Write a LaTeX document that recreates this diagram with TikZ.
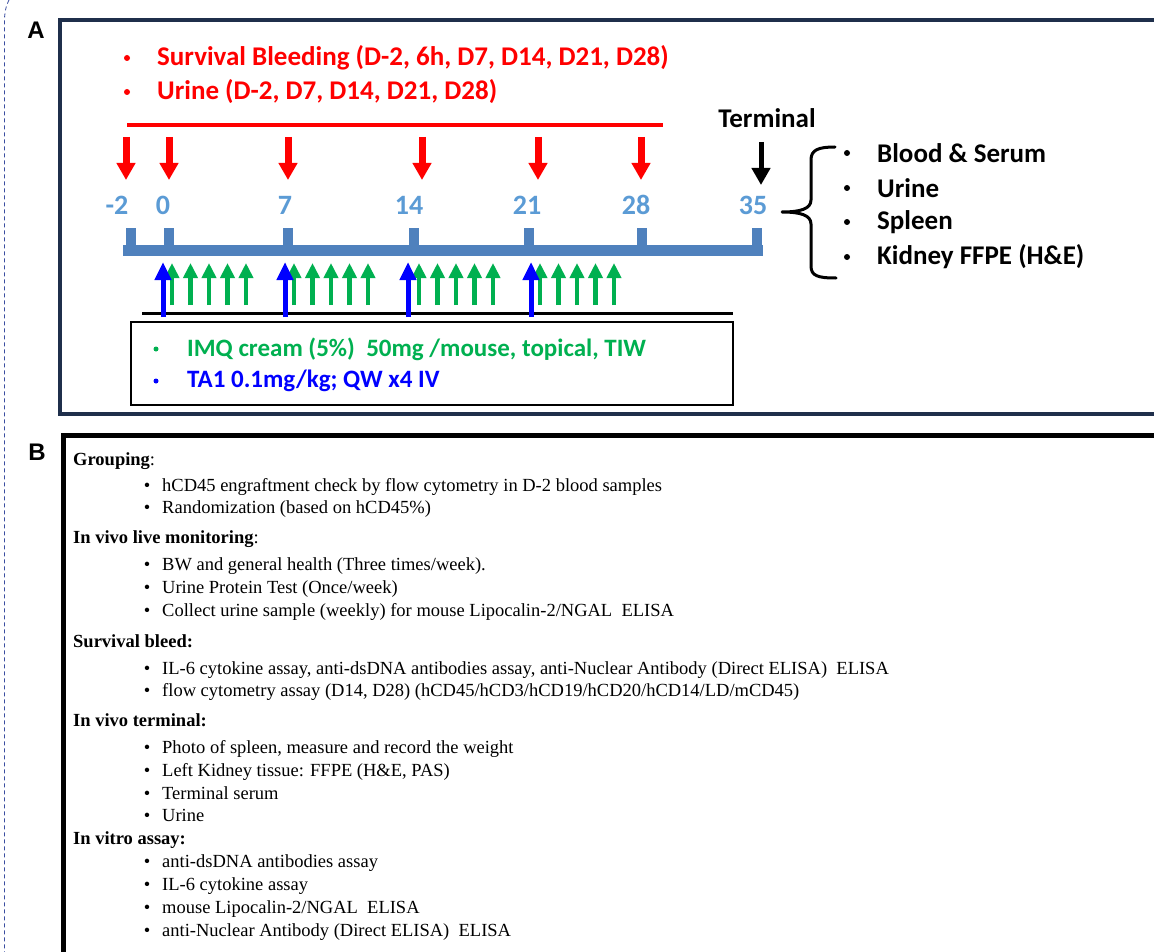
\documentclass[tikz,border=0pt]{standalone}
\usepackage{fontspec}
\setmainfont{Liberation Serif}
\newfontfamily\calfont{Carlito}
\newfontfamily\arialfont{Liberation Sans}
\usetikzlibrary{arrows.meta}
\definecolor{navy}{HTML}{1F2F4B}
\definecolor{tlblue}{HTML}{4F81BD}
\definecolor{numblue}{HTML}{5B9BD5}
\definecolor{imqgreen}{HTML}{00B050}
\definecolor{tablue}{HTML}{0000FF}
\definecolor{dashblue}{HTML}{3A4DA0}
\tikzset{
  panellabel/.style={font=\arialfont\bfseries\fontsize{24}{26}\selectfont, inner sep=0},
  redtxt/.style={font=\calfont\bfseries\fontsize{27}{30}\selectfont, text=red, anchor=west, inner sep=0},
  blktxt/.style={font=\calfont\bfseries\fontsize{27}{30}\selectfont, text=black, anchor=west, inner sep=0},
  numtxt/.style={font=\calfont\bfseries\fontsize{28}{30}\selectfont, text=numblue, inner sep=0},
  legtxt/.style={font=\calfont\bfseries\fontsize{25}{28}\selectfont, anchor=west, inner sep=0},
  dotA/.style={circle, inner sep=0, minimum size=6pt},
  redarr/.style={red, line width=7pt, -{Triangle[width=18pt,length=17pt]}},
  blkarr/.style={black, line width=5pt, -{Triangle[width=18pt,length=17pt]}},
  grnarr/.style={imqgreen, line width=4.5pt, -{Triangle[width=14pt,length=15pt]}},
  bluarr/.style={tablue, line width=5pt, -{Triangle[width=16pt,length=18pt]}},
  head/.style={font=\fontsize{18.5}{22}\selectfont, anchor=west, inner sep=0, text height=13pt, text depth=4pt},
  item/.style={font=\fontsize{18.5}{22}\selectfont, anchor=west, inner sep=0, text height=13pt, text depth=4pt},
  bul/.style={font=\fontsize{18.5}{22}\selectfont, inner sep=0, text height=13pt, text depth=4pt},
}
\begin{document}
\begin{tikzpicture}[x=1pt,y=-1pt]
\useasboundingbox (0,0) rectangle (1154,952);
\fill[white] (0,0) rectangle (1154,952);
\clip (0,0) rectangle (1154,952);
% left dashed guide
\draw[dashblue, line width=0.8pt, dash pattern=on 4pt off 3pt] (9,0) .. controls (5,8) and (4.5,14) .. (4.5,22) -- (4.5,952);
% panel labels
\node[panellabel] (labA) at (36,30) {A};
\node[panellabel] (labB) at (37,452) {B};
% ---------------- Panel A ----------------
\draw[navy, line width=4pt] (60,20) rectangle (1170,414);
\node[dotA, fill=red] (b1) at (127,58) {};
\node[redtxt] (t1) at (157,58) {Survival Bleeding (D-2, 6h, D7, D14, D21, D28)};
\node[dotA, fill=red] (b2) at (127,92) {};
\node[redtxt] (t2) at (157,92) {Urine (D-2, D7, D14, D21, D28)};
\draw[red, line width=3.5pt] (127,125) -- (663,125);
\foreach \x in {126,169,288,422,538,641} {
  \draw[redarr] (\x,137) -- (\x,180);
}
\node[blktxt, anchor=center] (term) at (767,118) {Terminal};
\draw[blkarr] (761,142) -- (761,185);
% timeline numbers
\node[numtxt] (nm2) at (117,205) {-2};
\node[numtxt] (n0) at (163,205) {0};
\node[numtxt] (n7) at (285,205) {7};
\node[numtxt] (n14) at (409,205) {14};
\node[numtxt] (n21) at (527,205) {21};
\node[numtxt] (n28) at (636,205) {28};
\node[numtxt] (n35) at (753,205) {35};
% timeline bar
\fill[tlblue] (123,245) rectangle (763,256);
\foreach \x in {131,169,288,414,529,642,757} {
  \fill[tlblue] (\x-5,228) rectangle (\x+5,250);
}
% dosing arrows
\foreach \b/\o in {163/9,285/9,408/11,531/9} {
  \foreach \k in {0,...,4} {
    \draw[grnarr] (\b+\o+\k*18.5,305) -- (\b+\o+\k*18.5,263);
  }
}
\draw[black, line width=3pt] (142,313) -- (733,313);
\foreach \x in {163,285,408,531} {
  \draw[bluarr] (\x,317) -- (\x,262);
}
% legend box
\draw[black, line width=2pt] (131,322) rectangle (733,405);
\node[dotA, minimum size=5pt, fill=imqgreen] (gb) at (156,349) {};
\node[legtxt, text=imqgreen] (gt) at (187,349) {IMQ cream (5\%)\ \ 50mg /mouse, topical, TIW};
\node[dotA, minimum size=5pt, fill=tablue] (bb) at (156,381) {};
\node[legtxt, text=tablue] (bt) at (187,381) {TA1 0.1mg/kg; QW x4 IV};
% brace
\draw[black, line width=3pt, line cap=round, line join=round]
  (835,147) .. controls (818,147) and (811,150) .. (811,160) -- (811,200)
  .. controls (811,209) and (800,212) .. (782,212)
  .. controls (800,212) and (811,215) .. (811,224) -- (811,266)
  .. controls (811,276) and (818,278) .. (836,278);
\node[dotA, fill=black] (rb1) at (847,153) {};
\node[blktxt] (r1) at (877,153) {Blood \& Serum};
\node[dotA, fill=black] (rb2) at (847,188) {};
\node[blktxt] (r2) at (877,188) {Urine};
\node[dotA, fill=black] (rb3) at (847,222) {};
\node[blktxt] (r3) at (877,222) {Spleen};
\node[dotA, fill=black] (rb4) at (847,257) {};
\node[blktxt] (r4) at (877,257) {Kidney FFPE (H\&E)};
% ---------------- Panel B ----------------
\draw[black, line width=5pt] (63.5,435.5) rectangle (1170,970);
\node[head] (h1) at (73,461) {\textbf{Grouping}:};
\node[bul] at (147,487) {•}; \node[item] (i11) at (162,487) {hCD45 engraftment check by flow cytometry in D-2 blood samples};
\node[bul] at (147,509) {•}; \node[item] (i12) at (162,509) {Randomization (based on hCD45\%)};
\node[head] (h2) at (73,539) {\textbf{In vivo live monitoring}:};
\node[bul] at (147,566) {•}; \node[item] (i21) at (162,566) {BW and general health (Three times/week).};
\node[bul] at (147,589) {•}; \node[item] (i22) at (162,589) {Urine Protein Test (Once/week)};
\node[bul] at (147,612) {•}; \node[item] (i23) at (162,612) {Collect urine sample (weekly) for mouse Lipocalin-2/NGAL\ \ ELISA};
\node[head] (h3) at (73,643) {\textbf{Survival bleed:}};
\node[bul] at (147,670) {•}; \node[item] (i31) at (162,670) {IL-6 cytokine assay, anti-dsDNA antibodies assay, anti-Nuclear Antibody (Direct ELISA)\ \ ELISA};
\node[bul] at (147,692) {•}; \node[item] (i32) at (162,692) {flow cytometry assay (D14, D28) (hCD45/hCD3/hCD19/hCD20/hCD14/LD/mCD45)};
\node[head] (h4) at (73,722) {\textbf{In vivo terminal:}};
\node[bul] at (147,749) {•}; \node[item] (i41) at (162,749) {Photo of spleen, measure and record the weight};
\node[bul] at (147,772) {•}; \node[item] (i42) at (162,772) {Left Kidney tissue: FFPE (H\&E, PAS)};
\node[bul] at (147,795) {•}; \node[item] (i43) at (162,795) {Terminal serum};
\node[bul] at (147,817) {•}; \node[item] (i44) at (162,817) {Urine};
\node[head] (h5) at (73,840) {\textbf{In vitro assay:}};
\node[bul] at (147,863) {•}; \node[item] (i51) at (162,863) {anti-dsDNA antibodies assay};
\node[bul] at (147,886) {•}; \node[item] (i52) at (162,886) {IL-6 cytokine assay};
\node[bul] at (147,909) {•}; \node[item] (i53) at (162,909) {mouse Lipocalin-2/NGAL\ \ ELISA};
\node[bul] at (147,932) {•}; \node[item] (i54) at (162,932) {anti-Nuclear Antibody (Direct ELISA)\ \ ELISA};
\end{tikzpicture}
\end{document}
